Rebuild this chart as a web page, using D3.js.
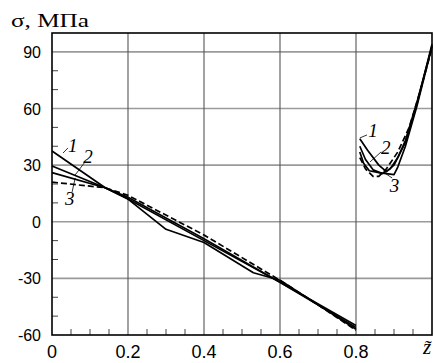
<!DOCTYPE html>
<html>
<head>
<meta charset="utf-8">
<script src="https://cdn.jsdelivr.net/npm/d3@7"></script>
<style>
  body { margin: 0; background: #fff; }
  svg { display: block; }
  .tick-label { font-family: "Liberation Sans", Arial, sans-serif; fill: #000; }
  .serif { font-family: "Liberation Serif", "DejaVu Serif", serif; fill: #000; }
</style>
</head>
<body>
<svg id="chart"></svg>
<script>
// ticks
var xTicks = [0, 0.2, 0.4, 0.6, 0.8];
var yTicks = [-60, -30, 0, 30, 60, 90];
var xTickLabels = ["0", "0.2", "0.4", "0.6", "0.8"];

// left part of the curves, [z, sigma]
var curve1Left = [[0, 37.5], [0.14, 18], [0.2, 12], [0.4, -10], [0.6, -32], [0.8, -55]];
var curve2Left = [[0, 29.5], [0.14, 18], [0.2, 13], [0.4, -9], [0.6, -32], [0.8, -56]];
var curve3Left = [[0, 26], [0.14, 18], [0.2, 12], [0.3, -4], [0.4, -11], [0.53, -27], [0.6, -31], [0.7, -44], [0.8, -57]];
var curve4Left = [[0, 21], [0.14, 18], [0.2, 14], [0.4, -7], [0.6, -31], [0.7, -44], [0.8, -57.5]];

// right part of the curves
var curve1Right = [[0.81, 44], [0.83, 38], [0.86, 30], [0.88, 26.5], [0.9, 30], [0.93, 42], [0.96, 62], [1.0, 94]];
var curve2Right = [[0.81, 40], [0.825, 33], [0.845, 27.5], [0.87, 25.5], [0.89, 28], [0.91, 34], [0.93, 43], [0.96, 63], [1.0, 93]];
var curve3Right = [[0.81, 37], [0.82, 31], [0.835, 27], [0.86, 26], [0.9, 25], [0.91, 29], [0.93, 40], [0.96, 61], [1.0, 93]];
var curve4Right = [[0.81, 34], [0.825, 28], [0.845, 24], [0.86, 24], [0.88, 28], [0.91, 37], [0.94, 50], [0.97, 70], [1.0, 92]];

var screen = {width: 434, height: 363};
var margins = {top: 33, bottom: 28, left: 52, right: 2};

var svg = d3.select("#chart")
            .attr("width", screen.width)
            .attr("height", screen.height);

var xScale = d3.scaleLinear()
               .domain([0, 1])
               .range([margins.left, screen.width - margins.right]);
var yScale = d3.scaleLinear()
               .domain([-60, 100])
               .range([screen.height - margins.bottom, margins.top]);

//grid
svg.append("g").selectAll("line")
   .data(yTicks.filter(function(d){return d > -60;}))
   .enter().append("line")
   .attr("x1", xScale(0)).attr("x2", xScale(1))
   .attr("y1", function(d){return yScale(d);})
   .attr("y2", function(d){return yScale(d);})
   .attr("stroke", "#9a9a9a").attr("stroke-width", 1.6);

svg.append("g").selectAll("line")
   .data([0.2, 0.4, 0.6, 0.8])
   .enter().append("line")
   .attr("y1", yScale(-60)).attr("y2", yScale(100))
   .attr("x1", function(d){return xScale(d);})
   .attr("x2", function(d){return xScale(d);})
   .attr("stroke", "#555").attr("stroke-width", 1.1);

//minor ticks (inside)
var xMinor = d3.range(0.05, 1, 0.05).filter(function(d){return Math.abs(d*5 - Math.round(d*5)) > 0.01;});
svg.append("g").selectAll("line")
   .data(xMinor)
   .enter().append("line")
   .attr("x1", function(d){return xScale(d);})
   .attr("x2", function(d){return xScale(d);})
   .attr("y1", yScale(-60)).attr("y2", yScale(-60) - 6)
   .attr("stroke", "#444").attr("stroke-width", 1);

var yMinor = d3.range(-50, 100, 10).filter(function(d){return d % 30 !== 0;});
svg.append("g").selectAll("line")
   .data(yMinor)
   .enter().append("line")
   .attr("x1", xScale(0)).attr("x2", xScale(0) + 6)
   .attr("y1", function(d){return yScale(d);})
   .attr("y2", function(d){return yScale(d);})
   .attr("stroke", "#444").attr("stroke-width", 1);

//frame
svg.append("rect")
   .attr("x", xScale(0)).attr("y", yScale(100))
   .attr("width", xScale(1) - xScale(0))
   .attr("height", yScale(-60) - yScale(100))
   .attr("fill", "none").attr("stroke", "#000").attr("stroke-width", 1.6);

//tick labels
svg.append("g").selectAll("text")
   .data(yTicks)
   .enter().append("text")
   .attr("class", "tick-label")
   .attr("font-size", 16)
   .attr("x", 41)
   .attr("y", function(d){return yScale(d) + 6;})
   .attr("text-anchor", "end")
   .text(function(d){return d;});

svg.append("g").selectAll("text")
   .data(xTicks)
   .enter().append("text")
   .attr("class", "tick-label")
   .attr("font-size", 18)
   .attr("x", function(d){return xScale(d);})
   .attr("y", 358)
   .attr("text-anchor", "middle")
   .text(function(d, i){return xTickLabels[i];});

//axis titles
svg.append("text").attr("class", "serif")
   .attr("x", 11).attr("y", 27)
   .attr("font-size", 19)
   .attr("textLength", 78).attr("lengthAdjust", "spacingAndGlyphs")
   .text("σ, МПа");

svg.append("text").attr("class", "serif")
   .attr("x", 427).attr("y", 354)
   .attr("font-size", 21).attr("font-style", "italic")
   .attr("text-anchor", "middle")
   .text("z\u0303");

//curves
var curveLine = d3.line()
             .x(function(d){return xScale(d[0]);})
             .y(function(d){return yScale(d[1]);});

var curves = [
  {data: curve1Left, dash: null}, {data: curve2Left, dash: null},
  {data: curve3Left, dash: null}, {data: curve4Left, dash: "6,3"},
  {data: curve1Right, dash: null}, {data: curve2Right, dash: null},
  {data: curve3Right, dash: null}, {data: curve4Right, dash: "6,3"}
];

svg.append("g").selectAll("path")
   .data(curves)
   .enter().append("path")
   .attr("d", function(c){return curveLine(c.data);})
   .attr("fill", "none")
   .attr("stroke", "#000")
   .attr("stroke-width", 1.7)
   .attr("stroke-linejoin", "round")
   .attr("stroke-dasharray", function(c){return c.dash;});

//curve labels with leader lines
var labels = [
  {t: "1", x: 0.042, y: 37, lx: [0.029, 0.042], ly: [36.4, 39.1]},
  {t: "2", x: 0.082, y: 31, lx: [0.087, 0.061], ly: [31.7, 24.8]},
  {t: "3", x: 0.034, y: 9, lx: [0.053, 0.061], ly: [15.8, 23.2]},
  {t: "1", x: 0.832, y: 45, lx: [0.81, 0.829], ly: [44.4, 46]},
  {t: "2", x: 0.866, y: 36, lx: [0.866, 0.837], ly: [37, 31.7]},
  {t: "3", x: 0.889, y: 15.8, lx: [0.895, 0.871], ly: [23.2, 26.4]}
];

var labelGroup = svg.append("g");
labelGroup.selectAll("line")
   .data(labels)
   .enter().append("line")
   .attr("x1", function(d){return xScale(d.lx[0]);})
   .attr("x2", function(d){return xScale(d.lx[1]);})
   .attr("y1", function(d){return yScale(d.ly[0]);})
   .attr("y2", function(d){return yScale(d.ly[1]);})
   .attr("stroke", "#000").attr("stroke-width", 0.8);

labelGroup.selectAll("text")
   .data(labels)
   .enter().append("text")
   .attr("class", "serif")
   .attr("font-size", 19).attr("font-style", "italic")
   .attr("x", function(d){return xScale(d.x);})
   .attr("y", function(d){return yScale(d.y);})
   .text(function(d){return d.t;});
</script>
</body>
</html>
